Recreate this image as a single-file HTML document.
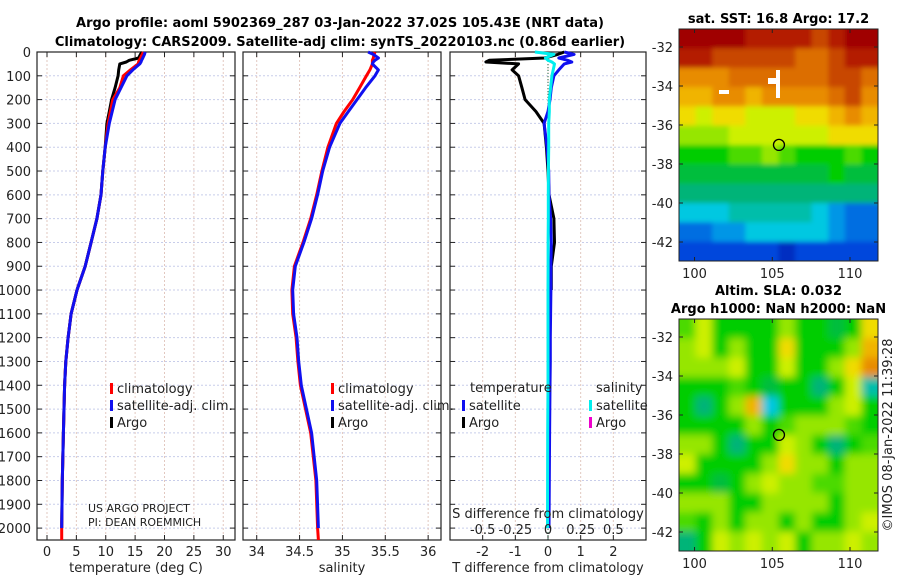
<!DOCTYPE html>
<html><head><meta charset="utf-8"><style>
body{margin:0;background:#fff;}
svg{display:block;font-family:"DejaVu Sans","Liberation Sans",sans-serif;}
</style></head><body>
<svg id="fig" width="900" height="580" viewBox="0 0 900 580">
<g id="titles" font-weight="bold" font-size="13" text-anchor="middle" fill="#000">
<text x="340" y="27">Argo profile: aoml 5902369_287 03-Jan-2022 37.02S 105.43E (NRT data)</text>
<text x="340" y="46">Climatology: CARS2009. Satellite-adj clim: synTS_20220103.nc (0.86d earlier)</text>
</g>
<g id="p1"></g>
<g id="p2"></g>
<g id="p3"></g>
<g id="m1"></g>
<g id="m2"></g>
<text x="0" y="0" transform="translate(892,435) rotate(-90)" text-anchor="middle" font-size="13" fill="#222">©IMOS 08-Jan-2022 11:39:28</text>
</svg>
<script>
// ---- profile data ----
const depths   = [0,10,25,35,42,50,75,100,150,200,250,300,400,500,600,700,800,900,1000,1100,1200,1300,1400,1600,1800,2000];
const tempClim = [16.4,16.2,15.9,15.7,15.6,15.5,14.2,13.0,12.4,11.2,10.8,10.4,9.9,9.5,9.2,8.5,7.5,6.5,5.1,4.1,3.6,3.2,3.0,2.8,2.6,2.5];
const tempSat  = [16.7,16.6,16.3,16.1,16.0,15.8,14.6,13.6,12.6,11.6,11.1,10.6,9.9,9.5,9.2,8.5,7.5,6.5,5.1,4.1,3.6,3.2,3.0,2.8,2.6,2.5];
const tempArgo = [16.2,15.9,15.6,14.0,13.5,12.4,12.2,12.1,11.6,11.0,10.6,10.2,9.9,9.5,9.2,8.5,7.5,6.5,5.1,4.1,3.6,3.2,3.0,2.8,2.6,2.5];
const salClim  = [35.38,35.37,35.36,35.35,35.35,35.35,35.32,35.28,35.20,35.12,35.02,34.93,34.83,34.76,34.70,34.63,34.54,34.44,34.41,34.42,34.46,34.48,34.51,34.63,34.69,34.71];
const salSat   = [35.30,35.36,35.42,35.38,35.36,35.35,35.42,35.38,35.27,35.17,35.07,34.97,34.85,34.77,34.71,34.64,34.55,34.45,34.42,34.43,34.47,34.49,34.52,34.64,34.70,34.72];
const dTArgo   = [0.5,0.3,-0.1,-1.8,-1.9,-0.9,-1.1,-0.9,-0.8,-0.7,-0.37,-0.12,-0.05,0,0.03,0.18,0.2,0.1,0.1];
const dTSat    = [0.5,0.8,0.33,0.6,0.73,0.5,0.33,0.18,0.1,0.06,0,-0.12,-0.03,0.02,0.03,0.08,0.1,0.09,0.09,0.08,0.07,0.07,0.06,0.05,0.04,0.03];
const dSSat    = [-0.1,0.045,-0.02,0.0,0.03,0.05,0.04,0.03,0.02,0.01,0.01,0.005,0.005,0.003,0.002,0.002,0.001,0.001,0,0,0,0,0,-0.002,-0.003,-0.004];
const depthTicks = [0,100,200,300,400,500,600,700,800,900,1000,1100,1200,1300,1400,1500,1600,1700,1800,1900,2000];
const tempTicks = [0,5,10,15,20,25,30];
const salTicks = [34,34.5,35,35.5,36];
const salTickLabels = ["34","34.5","35","35.5","36"];
const dTTicks = [-2,-1,0,1,2];
const dSTicks = [-0.5,-0.25,0,0.25,0.5];
const dSTickLabels = ["-0.5","-0.25","0","0.25","0.5"];
// ---- map data (colour index 0..10) ----
const sstGrid = [
[10,10,10,10,9.5,9.5,9.5,9.5,9,9.5,10,10],
[9.5,9.5,9,9,9,9,9,8.5,8.5,9,9.5,9.5],
[8,8,8,8.5,8.5,8.5,8.5,8.5,8.5,9,9,8.5],
[7.5,7.5,8,8,7.5,8,8,8,8,8.5,9,8],
[7,6.5,7,7,6.5,6.5,6.5,7,7,7.5,8,7.5],
[6,6,6,6.5,6.5,6.5,6.5,6.5,6.5,7,7,7],
[5,5,5,5.5,5.5,6,5.5,5,5,5,5.5,5],
[4.5,4.5,4.5,4.5,4.5,4.5,4.5,4.5,4.5,5,4.5,4.5],
[4,4,4,4,4,4,4,4,4,4,4,4],
[3,3,3,3.5,3.5,3.5,3.5,3.5,3,2.5,2,2],
[2,2,2.5,2.5,3,3,3,3,3,2.5,2,2],
[1.5,1.5,1.5,1.5,1.5,1.5,1,1.5,1.5,1.5,1.5,1.5]];
const slaGrid = [
[5.5,6.5,5,5,5,5,6,5,5,4.5,5,7],
[6,6.5,5,6,5,5,7,5,5,5,6,7.5],
[6,6,6,6.5,5,5,6.5,5,5,6,7,8],
[5,5,5,5.5,5,4.5,5,5,4,5,6.5,3.5],
[5,4,5,6,7.5,3,5,5,5,6,6.5,5],
[5,5,5,5,6,5,5.5,6,6,6,5.5,5],
[6,6,5,4,5,5,6.5,6,5,4,5,5.5],
[6.5,5,5,5,5,6,7,6,6,5,6,6],
[5,5,4.5,5,6,6.5,6,6,5.5,5.5,6,6],
[6,6,6,5,5,6,6,6,6,5,6,6],
[5.5,5,6,5,6,6,5,6,5,5,6,6.5],
[4,5,6.5,6,6.5,6,6.5,5,6,6,6.5,6]];
const lonTicks=[100,105,110];
const latTicks=[-32,-34,-36,-38,-40,-42];

const NS='http://www.w3.org/2000/svg';
function mk(tag,attrs,parent){const e=document.createElementNS(NS,tag);for(const k in attrs)e.setAttribute(k,attrs[k]);if(parent)parent.appendChild(e);return e;}
const yTop=52,yBot=540,dMax=2050;
const yD=d=>yTop+(d/dMax)*(yBot-yTop);

function panel(g,x0,x1,vmin,vmax,ticks,labels,xtitle,showY){
  const xs=v=>x0+(v-vmin)/(vmax-vmin)*(x1-x0);
  depthTicks.forEach(d=>{const l=mk('line',{x1:x0,x2:x1,y1:yD(d),y2:yD(d),stroke:'#c8cdea','stroke-width':1,'stroke-dasharray':'2,2'},g);
    
    
    mk('line',{x1:x0,x2:x0+5,y1:yD(d),y2:yD(d),stroke:'#222'},g);mk('line',{x1:x1-5,x2:x1,y1:yD(d),y2:yD(d),stroke:'#222'},g);
    if(showY){const t=mk('text',{x:x0-6,y:yD(d)+5,'text-anchor':'end','font-size':13,fill:'#222'},g);t.textContent=d;
      
      }
  });
  ticks.forEach((v,i)=>{const l=mk('line',{x1:xs(v),x2:xs(v),y1:yTop,y2:yBot,stroke:'#e2c8c0','stroke-width':1,'stroke-dasharray':'2,2'},g);
    
    
    mk('line',{x1:xs(v),x2:xs(v),y1:yTop,y2:yTop+5,stroke:'#222'},g);mk('line',{x1:xs(v),x2:xs(v),y1:yBot-5,y2:yBot,stroke:'#222'},g);
    const t=mk('text',{x:xs(v),y:556,'text-anchor':'middle','font-size':13,fill:'#222'},g);t.textContent=labels[i];
    
    
  });
  const r=mk('rect',{x:x0,y:yTop,width:x1-x0,height:yBot-yTop,fill:'none',stroke:'#222','stroke-width':1.2},g);
  
  
  const t=mk('text',{x:(x0+x1)/2,y:572,'text-anchor':'middle','font-size':13,fill:'#222'},g);t.textContent=xtitle;
  
  
  return xs;
}
function line(g,xs,vals,ds,color,name,w){
  const pts=vals.map((v,i)=>xs(v).toFixed(1)+','+yD(ds[i]).toFixed(1)).join(' ');
  const p=mk('polyline',{points:pts,fill:'none',stroke:color,'stroke-width':w||3,'stroke-linejoin':'round'},g);
  
  
}
function legend(g,x,y,color,label){
  mk('rect',{x:x,y:y-9,width:3,height:11,fill:color},g);
  const t=mk('text',{x:x+7,y:y+1,'font-size':13,fill:'#222'},g);t.textContent=label;
  
  
}
// Panel 1
const g1=document.getElementById('p1');
const xT=panel(g1,37,235,-1.7,32,tempTicks,tempTicks.map(String),'temperature (deg C)',true);
line(g1,xT,tempArgo,depths,'#000','argo-temperature-line');
line(g1,xT,tempClim.concat([2.5]),depths.concat([2050]),'#f00','climatology-temperature-line');
line(g1,xT,tempSat,depths,'#1010f0','satellite-temperature-line');
legend(g1,110,392,'#f00','climatology');legend(g1,110,409,'#1010f0','satellite-adj. clim.');legend(g1,110,426,'#000','Argo');
[['US ARGO PROJECT',512],['PI: DEAN ROEMMICH',526]].forEach(a=>{const t=mk('text',{x:88,y:a[1],'font-size':11,fill:'#222'},g1);t.textContent=a[0];
  
  });
// Panel 2
const g2=document.getElementById('p2');
const xS=panel(g2,243,441,33.84,36.15,salTicks,salTickLabels,'salinity',false);
line(g2,xS,salClim.concat([34.72]),depths.concat([2050]),'#f00','climatology-salinity-line');
line(g2,xS,salSat,depths,'#1010f0','satellite-salinity-line');
legend(g2,331,392,'#f00','climatology');legend(g2,331,409,'#1010f0','satellite-adj. clim.');legend(g2,331,426,'#000','Argo');
// Panel 3
const g3=document.getElementById('p3');
const xD=panel(g3,450,646,-3,3,dTTicks,dTTicks.map(String),'T difference from climatology',false);
const xSd=v=>xD(v*4);
const z=mk('line',{x1:xD(0),x2:xD(0),y1:yTop,y2:yBot,stroke:'#264',"stroke-dasharray":'1,2'},g3);


line(g3,xD,dTArgo,depths.slice(0,dTArgo.length),'#000','argo-temperature-difference-line');
line(g3,xD,dTSat,depths,'#1010f0','satellite-temperature-difference-line');
line(g3,xSd,dSSat,depths,'#00eeee','satellite-salinity-difference-line');
let st=mk('text',{x:548,y:518,'text-anchor':'middle','font-size':13,fill:'#222'},g3);st.textContent='S difference from climatology';


dSTicks.forEach((v,i)=>{const t=mk('text',{x:xSd(v),y:534,'text-anchor':'middle','font-size':13,fill:'#222'},g3);t.textContent=dSTickLabels[i];
  
  });
[['temperature',470,392],['salinity',596,392]].forEach(a=>{const t=mk('text',{x:a[1],y:a[2],'font-size':13,fill:'#222'},g3);t.textContent=a[0];
  
  });
legend(g3,462,409,'#1010f0','satellite');legend(g3,462,426,'#000','Argo');
legend(g3,589,409,'#00eeee','satellite');legend(g3,589,426,'#ee00cc','Argo');

// ---- maps ----
const stops=[[0,[0,0,140]],[1.5,[0,70,220]],[2.5,[0,150,230]],[3,[0,200,225]],[3.5,[0,190,170]],[4,[0,180,120]],[4.5,[0,190,60]],[5,[0,205,0]],[6,[150,230,0]],[6.5,[205,240,0]],[7,[240,220,0]],[7.5,[240,180,0]],[8,[232,140,0]],[8.5,[220,110,0]],[9,[200,70,0]],[9.5,[180,30,0]],[10,[160,0,0]]];
function cmap(v){for(let i=1;i<stops.length;i++){if(v<=stops[i][0]){const a=stops[i-1],b=stops[i],f=(v-a[0])/(b[0]-a[0]);return 'rgb('+a[1].map((c,k)=>Math.round(c+(b[1][k]-c)*f)).join(',')+')';}}return 'rgb(160,0,0)';}
function map(g,id,x0,y0,x1,y1,grid,lat32,lat42,title,blur){
  const lonX=l=>x0+(l-99)/(111.8-99)*(x1-x0);
  const latY=l=>lat32+(l+32)/(-10)*(lat42-lat32);
  const rows=grid.length,cols=grid[0].length,cw=(x1-x0)/cols,ch=(y1-y0)/rows;
  const cg=mk('g',{},g);
  const f=mk('filter',{id:'bl'+id,x:'-10%',y:'-10%',width:'120%',height:'120%'},g);mk('feGaussianBlur',{stdDeviation:blur},f);
  mk('clipPath',{id:'cl'+id},g).appendChild(mk('rect',{x:x0,y:y0,width:x1-x0,height:y1-y0}));
  cg.setAttribute('clip-path','url(#cl'+id+')');
  const ig=mk('g',{filter:'url(#bl'+id+')'},cg);
  const pad=10;
  grid.forEach((row,r)=>row.forEach((v,c)=>{const e=mk('rect',{x:(x0+c*cw-pad*(c==0)).toFixed(1),y:(y0+r*ch-pad*(r==0)).toFixed(1),width:(cw+0.6+pad*(c==0)+pad*(c==cols-1)).toFixed(1),height:(ch+0.6+pad*(r==0)+pad*(r==rows-1)).toFixed(1),fill:cmap(v)},ig);
    
    }));
  const c=mk('circle',{cx:lonX(105.43),cy:latY(-37.02),r:5.5,fill:'none',stroke:'#000','stroke-width':1.3},g);
  
  
  mk('rect',{x:x0,y:y0,width:x1-x0,height:y1-y0,fill:'none',stroke:'#222'},g);
  lonTicks.forEach(l=>{mk('line',{x1:lonX(l),x2:lonX(l),y1:y1,y2:y1-4,stroke:'#222'},g);mk('line',{x1:lonX(l),x2:lonX(l),y1:y0,y2:y0+4,stroke:'#222'},g);
    const t=mk('text',{x:lonX(l),y:y1+17,'text-anchor':'middle','font-size':13,fill:'#222'},g);t.textContent=l;
    
    });
  latTicks.forEach(l=>{mk('line',{x1:x0,x2:x0+4,y1:latY(l),y2:latY(l),stroke:'#222'},g);mk('line',{x1:x1,x2:x1-4,y1:latY(l),y2:latY(l),stroke:'#222'},g);
    const t=mk('text',{x:x0-6,y:latY(l)+5,'text-anchor':'end','font-size':13,fill:'#222'},g);t.textContent=l;
    
    });
  title.forEach(a=>{const t=mk('text',{x:(x0+x1)/2,y:a[1],'text-anchor':'middle','font-size':13,'font-weight':'bold',fill:'#000'},g);t.textContent=a[0];
    
    });
}
map(document.getElementById('m1'),'a',679,29,878,261,sstGrid,47,242,[['sat. SST: 16.8 Argo: 17.2',23]],2.5);
map(document.getElementById('m2'),'b',679,319,878,551,slaGrid,337,532,[['Altim. SLA: 0.032',295],['Argo h1000: NaN h2000: NaN',313]],4);
// white gaps in SST map
[[776,70,4,28],[768,78,10,6],[719,90,10,4]].forEach(a=>{const r=mk('rect',{x:a[0],y:a[1],width:a[2],height:a[3],fill:'#fff'},document.getElementById('m1'));
  
  });
</script>
</body></html>
